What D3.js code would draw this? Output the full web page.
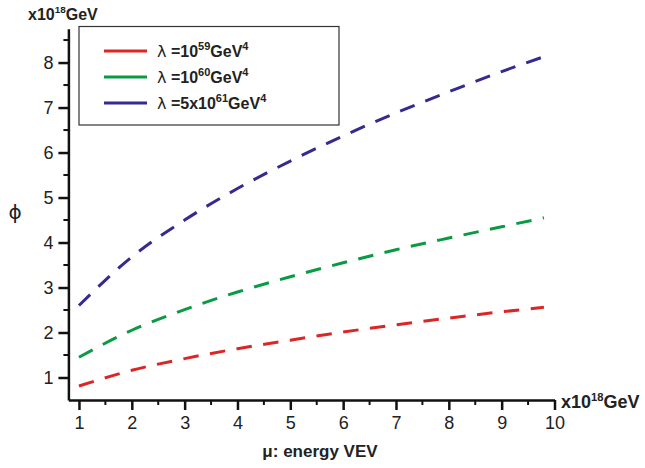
<!DOCTYPE html>
<html>
<head>
<meta charset="utf-8">
<script src="https://cdn.jsdelivr.net/npm/d3@7"></script>
<style>
  body { margin: 0; background: #fff; }
  svg { display: block; font-family: "Liberation Sans", Arial, Helvetica, sans-serif; }
</style>
</head>
<body>
<div id="chart"></div>
<script>
// values (x in 10^18 GeV, phi in 10^18 GeV)
const muValues = [1, 2, 3, 4, 5, 6, 7, 8, 9, 9.8];
const phiLambda59 = [0.81, 1.16, 1.42, 1.64, 1.83, 2.01, 2.17, 2.32, 2.46, 2.56];
const phiLambda60 = [1.45, 2.05, 2.51, 2.90, 3.24, 3.55, 3.84, 4.10, 4.35, 4.55];
const phiLambda61 = [2.60, 3.68, 4.50, 5.20, 5.81, 6.37, 6.88, 7.35, 7.80, 8.13];

const xTicks = [1, 2, 3, 4, 5, 6, 7, 8, 9, 10];
const yTicks = [1, 2, 3, 4, 5, 6, 7, 8];

const series = [
  { base: "10", exp: "59", color: "#dc2626", values: phiLambda59 },
  { base: "10", exp: "60", color: "#0a9a44", values: phiLambda60 },
  { base: "5x10", exp: "61", color: "#342a90", values: phiLambda61 }
];

const width = 645, height = 468;

const svg = d3.select("#chart").append("svg")
  .attr("width", width)
  .attr("height", height);

const x = d3.scaleLinear().domain([0.8, 10]).range([68.4, 554.5]);
const y = d3.scaleLinear().domain([0.5, 8.75]).range([400, 28.8]);

// minor ticks
const minorX = d3.range(1.5, 10, 1);
const minorY = d3.range(1.5, 9, 1);

svg.append("g").selectAll("line").data(minorX).enter().append("line")
  .attr("x1", d => x(d)).attr("x2", d => x(d))
  .attr("y1", 400).attr("y2", 405)
  .attr("stroke", "#111").attr("stroke-width", 2);

svg.append("g").selectAll("line").data(minorY).enter().append("line")
  .attr("x1", 68.4).attr("x2", 63.4)
  .attr("y1", d => y(d)).attr("y2", d => y(d))
  .attr("stroke", "#111").attr("stroke-width", 2);

// major axes
const xAxis = svg.append("g")
  .attr("transform", "translate(0,400)")
  .call(d3.axisBottom(x).tickValues(xTicks).tickSize(10).tickSizeOuter(0).tickPadding(6).tickFormat(d3.format("d")));

const yAxis = svg.append("g")
  .attr("transform", "translate(68.4,0)")
  .call(d3.axisLeft(y).tickValues(yTicks).tickSize(10).tickSizeOuter(0).tickPadding(5).tickFormat(d3.format("d")));

[xAxis, yAxis].forEach(g => {
  g.select(".domain").attr("stroke", "#111").attr("stroke-width", 2.5);
  g.selectAll(".tick line").attr("stroke", "#111").attr("stroke-width", 2.5);
  g.selectAll(".tick text")
    .attr("fill", "#222")
    .style("font-size", "18px")
    .style("font-family", "'Liberation Sans', Arial, sans-serif");
});

// curves
const line = d3.line()
  .x((d, i) => x(muValues[i]))
  .y(d => y(d))
  .curve(d3.curveMonotoneX);

svg.append("g").selectAll("path").data(series).enter().append("path")
  .attr("d", d => line(d.values))
  .attr("fill", "none")
  .attr("stroke", d => d.color)
  .attr("stroke-width", 3)
  .attr("stroke-dasharray", "15.5,11.5");

// legend
svg.append("rect")
  .attr("x", 79).attr("y", 26.5)
  .attr("width", 260).attr("height", 98.5)
  .attr("fill", "#fff")
  .attr("stroke", "#333").attr("stroke-width", 1.2);

const legendRows = svg.append("g").selectAll("g").data(series).enter().append("g")
  .attr("transform", (d, i) => `translate(0,${51 + i * 26})`);

legendRows.append("line")
  .attr("x1", 104).attr("x2", 147)
  .attr("y1", 0).attr("y2", 0)
  .attr("stroke", d => d.color)
  .attr("stroke-width", 3);

const lt = legendRows.append("text")
  .attr("x", 157).attr("y", 6)
  .style("font-size", "16px")
  .attr("fill", "#222");
lt.append("tspan").text("λ").style("font-family", "'DejaVu Sans', sans-serif").style("font-size", "16px");
lt.append("tspan").text(d => " =" + d.base).style("font-weight", "bold");
lt.append("tspan").text(d => d.exp).attr("dy", -7).style("font-size", "11px").style("font-weight", "bold");
lt.append("tspan").text("GeV").attr("dy", 7).style("font-weight", "bold");
lt.append("tspan").text("4").attr("dy", -7).style("font-size", "11px").style("font-weight", "bold");

// unit labels
function unitLabel(px, py, size) {
  const t = svg.append("text").attr("x", px).attr("y", py)
    .style("font-weight", "bold").style("font-size", size + "px").attr("fill", "#222");
  t.append("tspan").text("x10");
  t.append("tspan").text("18").attr("dy", -7).style("font-size", (size * 0.62) + "px");
  t.append("tspan").text("GeV").attr("dy", 7);
}
unitLabel(28, 20, 16);
unitLabel(561, 408, 18);

// axis titles
svg.append("text")
  .attr("x", 320).attr("y", 457)
  .attr("text-anchor", "middle")
  .style("font-weight", "bold").style("font-size", "17px")
  .attr("fill", "#222")
  .text("μ: energy VEV");

svg.append("text")
  .attr("x", 15).attr("y", 219)
  .attr("text-anchor", "middle")
  .style("font-size", "20px")
  .style("font-family", "'DejaVu Sans', sans-serif")
  .attr("fill", "#222")
  .text("ϕ");
</script>
</body>
</html>
